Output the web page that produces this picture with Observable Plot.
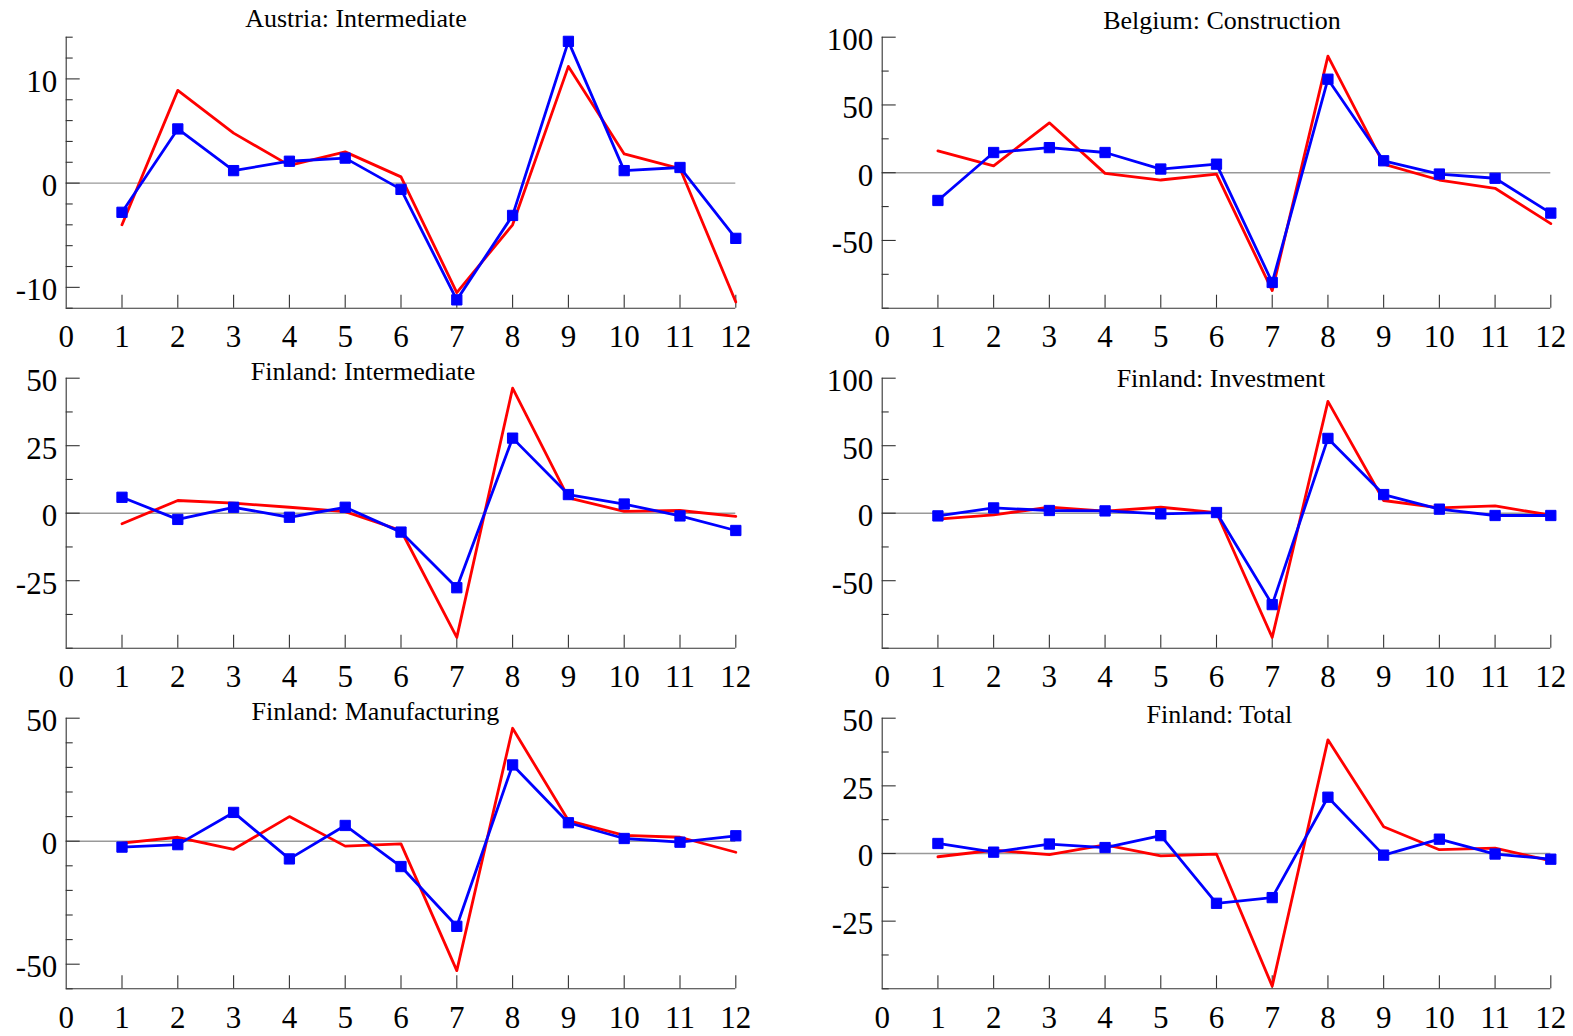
<!DOCTYPE html>
<html><head><meta charset="utf-8">
<script src="https://cdn.jsdelivr.net/npm/d3@7"></script>
<script src="https://cdn.jsdelivr.net/npm/@observablehq/plot@0.6"></script>
<style>
body{margin:0;background:#fff;}
#chart{position:relative;width:1573px;height:1036px;overflow:hidden;background:#fff;}
#chart svg{position:absolute;}
.title{position:absolute;font-family:"Liberation Serif","Times New Roman",serif;font-size:26px;line-height:26px;white-space:nowrap;transform:translateX(-50%);color:#000;}
</style></head><body><div id="chart"></div>
<script>
// ---- data ----
const months = [1,2,3,4,5,6,7,8,9,10,11,12];
const xTickLabels = [0,1,2,3,4,5,6,7,8,9,10,11,12];

const titles = ["Austria: Intermediate","Belgium: Construction","Finland: Intermediate","Finland: Investment","Finland: Manufacturing","Finland: Total"];

const austriaRed  = [-4.0, 8.9, 4.8, 1.7, 3.0, 0.6, -10.5, -4.0, 11.2, 2.8, 1.4, -11.4];
const austriaBlue = [-2.8, 5.2, 1.2, 2.1, 2.4, -0.6, -11.2, -3.1, 13.6, 1.2, 1.5, -5.3];
const belgiumRed  = [16.1, 5.1, 36.8, -0.5, -5.4, -1.0, -87, 86, 6.3, -5.4, -11.5, -37.6];
const belgiumBlue = [-20.5, 14.9, 18.5, 14.9, 2.7, 6.3, -81, 69, 8.8, -1.0, -4.1, -29.8];
const finIntRed   = [-3.9, 4.7, 3.7, 2.2, 0.6, -6.4, -46, 46.3, 5.7, 0.7, 1.0, -1.2];
const finIntBlue  = [5.9, -2.3, 2.2, -1.5, 2.2, -7.0, -27.6, 27.8, 6.9, 3.4, -1.0, -6.4];
const finInvRed   = [-4.4, -1.2, 4.4, 1.5, 4.4, 0.5, -92, 82.8, 9.4, 3.9, 5.4, -1.5];
const finInvBlue  = [-2.0, 3.9, 2.0, 1.7, -0.5, 0.5, -67.7, 55.4, 13.8, 3.0, -1.7, -1.7];
const finManRed   = [-0.8, 1.6, -3.3, 10.0, -2.0, -1.1, -52.6, 45.9, 8.4, 2.4, 1.6, -4.5];
const finManBlue  = [-2.4, -1.4, 11.7, -7.2, 6.4, -10.3, -34.6, 31.0, 7.5, 1.1, -0.4, 2.2];
const finTotRed   = [-1.2, 1.2, -0.4, 3.2, -0.9, -0.2, -49, 42, 9.9, 1.4, 2.0, -2.7];
const finTotBlue  = [3.7, 0.5, 3.5, 2.2, 6.6, -18.4, -16.3, 20.8, -0.6, 5.3, -0.2, -2.1];

const yDomains = [[-12,14],[-100,100],[-50,50],[-100,100],[-60,50],[-50,50]];
const yMajorTicks = [[-10,0,10],[-50,0,50,100],[-25,0,25,50],[-50,0,50,100],[-50,0,50],[-25,0,25,50]];
const yMinorTicks = [
  [-12,-8,-6,-4,-2,2,4,6,8,12,14],
  [-100,-75,-25,25,75],
  [-50,-37.5,-12.5,12.5,37.5],
  [-100,-75,-25,25,75],
  [-60,-40,-30,-20,-10,10,20,30,40],
  [-50,-37.5,-12.5,12.5,37.5]
];
const redSeries  = [austriaRed, belgiumRed, finIntRed, finInvRed, finManRed, finTotRed];
const blueSeries = [austriaBlue, belgiumBlue, finIntBlue, finInvBlue, finManBlue, finTotBlue];

// ---- layout ----
const cols = [
  {left: 0,   width: 786, ml: 65.7, mr: 50.7},
  {left: 786, width: 787, ml: 95.7, mr: 22.7}
];
const rows = [
  {top: 0,   height: 350, mt: 36.7, mb: 42.3},
  {top: 350, height: 340, mt: 27.7, mb: 42.3},
  {top: 690, height: 346, mt: 27.7, mb: 47.7}
];
const titlePos = [[356,27.7],[1222,29.3],[363,380.7],[1221,387.3],[375.4,720.7],[1219.4,723.3]];

const FONT = '"Liberation Serif","Times New Roman",serif';
const AX = "#333";
const chart = document.getElementById("chart");

titles.forEach((t, i) => {
  const c = cols[i % 2], r = rows[Math.floor(i / 2)];
  const W = c.width - c.ml - c.mr, H = r.height - r.mt - r.mb;
  const red = months.map((m, k) => ({x: m, y: redSeries[i][k]}));
  const blue = months.map((m, k) => ({x: m, y: blueSeries[i][k]}));
  const dom = yDomains[i];
  const svg = Plot.plot({
    width: c.width, height: r.height,
    marginLeft: c.ml, marginRight: c.mr, marginTop: r.mt, marginBottom: r.mb,
    style: {background: "transparent", overflow: "visible", fontFamily: FONT, fontSize: "31px"},
    x: {domain: [0, 12], axis: null},
    y: {domain: dom, axis: null},
    marks: [
      Plot.ruleY([0], {stroke: "#999", strokeWidth: 1.4}),
      Plot.ruleX([0], {stroke: AX, strokeWidth: 1.1}),
      Plot.ruleY([dom[0]], {stroke: AX, strokeWidth: 1.1}),
      Plot.ruleY(yMajorTicks[i], {y: d => d, stroke: AX, strokeWidth: 1.1, insetRight: W - 14}),
      Plot.ruleY(yMinorTicks[i], {y: d => d, stroke: AX, strokeWidth: 1.1, insetRight: W - 7}),
      Plot.ruleX(months, {x: d => d, stroke: AX, strokeWidth: 1.1, insetTop: H - 13}),
      Plot.text(yMajorTicks[i], {y: d => d, text: d => String(d), frameAnchor: "left", textAnchor: "end", dx: -9, dy: 3, fontFamily: FONT, fontSize: 31, fill: "#000"}),
      Plot.text(xTickLabels, {x: d => d, text: d => String(d), frameAnchor: "bottom", lineAnchor: "top", dy: 17, fontFamily: FONT, fontSize: 31, fill: "#000"}),
      Plot.line(red, {x: "x", y: "y", stroke: "#ff0000", strokeWidth: 2.8}),
      Plot.line(blue, {x: "x", y: "y", stroke: "#0000ff", strokeWidth: 2.8}),
      Plot.dot(blue, {x: "x", y: "y", symbol: "square", r: 5.8, fill: "#0000ff", stroke: "#0000ff", strokeWidth: 1})
    ]
  });
  svg.style.left = c.left + "px";
  svg.style.top = r.top + "px";
  chart.appendChild(svg);
  const div = document.createElement("div");
  div.className = "title";
  div.textContent = t;
  div.style.left = titlePos[i][0] + "px";
  div.style.top = (titlePos[i][1] - 21.8) + "px";
  chart.appendChild(div);
});
</script></body></html>
